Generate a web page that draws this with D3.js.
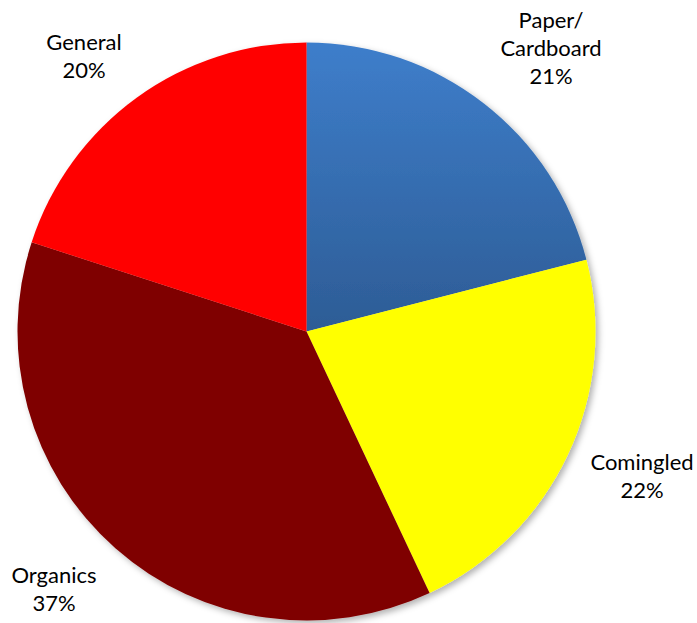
<!DOCTYPE html>
<html>
<head>
<meta charset="utf-8">
<script src="https://cdn.jsdelivr.net/npm/d3@7"></script>
<style>
  html, body { margin: 0; padding: 0; background: #fff; }
  svg { display: block; }
  .label { font-family: Lato, "Open Sans", sans-serif; font-size: 22px; fill: #000; }
</style>
</head>
<body>
<div id="chart"></div>
<script>
// waste stream breakdown
var categories = ["Paper/\nCardboard", "Comingled", "Organics", "General"];
var shares = [21, 22, 37, 20];
var sliceColors = ["url(#paperGrad)", "#ffff00", "#7f0000", "#ff0000"];
// label anchors (centre of the text block)
var labelPos = [[551, 49], [642, 477], [54, 590], [84, 57]];

var width = 697, height = 623;
var cx = 306.5, cy = 331.5, radius = 289;

var svg = d3.select("#chart").append("svg")
  .attr("width", width)
  .attr("height", height);

var defs = svg.append("defs");
var grad = defs.append("linearGradient")
  .attr("id", "paperGrad")
  .attr("x1", 0).attr("y1", 0).attr("x2", 0).attr("y2", 1);
grad.append("stop").attr("offset", "0%").attr("stop-color", "#3e7ecb");
grad.append("stop").attr("offset", "100%").attr("stop-color", "#2d5c95");

var shadow = defs.append("filter")
  .attr("id", "pieShadow")
  .attr("x", "-10%").attr("y", "-10%")
  .attr("width", "120%").attr("height", "120%");
shadow.append("feDropShadow")
  .attr("dx", 3).attr("dy", 3)
  .attr("stdDeviation", 3)
  .attr("flood-color", "#000")
  .attr("flood-opacity", 0.3);

var pie = d3.pie().sort(null).value(function (d) { return d; });
var arc = d3.arc().innerRadius(0).outerRadius(radius);
var arcs = pie(shares);

var g = svg.append("g")
  .attr("transform", "translate(" + cx + "," + cy + ")")
  .attr("filter", "url(#pieShadow)");

g.selectAll("path")
  .data(arcs)
  .enter().append("path")
  .attr("d", arc)
  .attr("fill", function (d, i) { return sliceColors[i]; });

var lineH = 28;
var labels = svg.selectAll(".label")
  .data(arcs)
  .enter().append("text")
  .attr("class", "label")
  .attr("text-anchor", "middle")
  .attr("transform", function (d, i) {
    return "translate(" + labelPos[i][0] + "," + labelPos[i][1] + ")";
  });

labels.each(function (d, i) {
  var lines = categories[i].split("\n").concat([shares[i] + "%"]);
  var top = -(lines.length - 1) * lineH / 2 + 7;
  var t = d3.select(this);
  lines.forEach(function (s, k) {
    t.append("tspan")
      .attr("x", 0)
      .attr("y", top + k * lineH)
      .text(s);
  });
});
</script>
</body>
</html>
